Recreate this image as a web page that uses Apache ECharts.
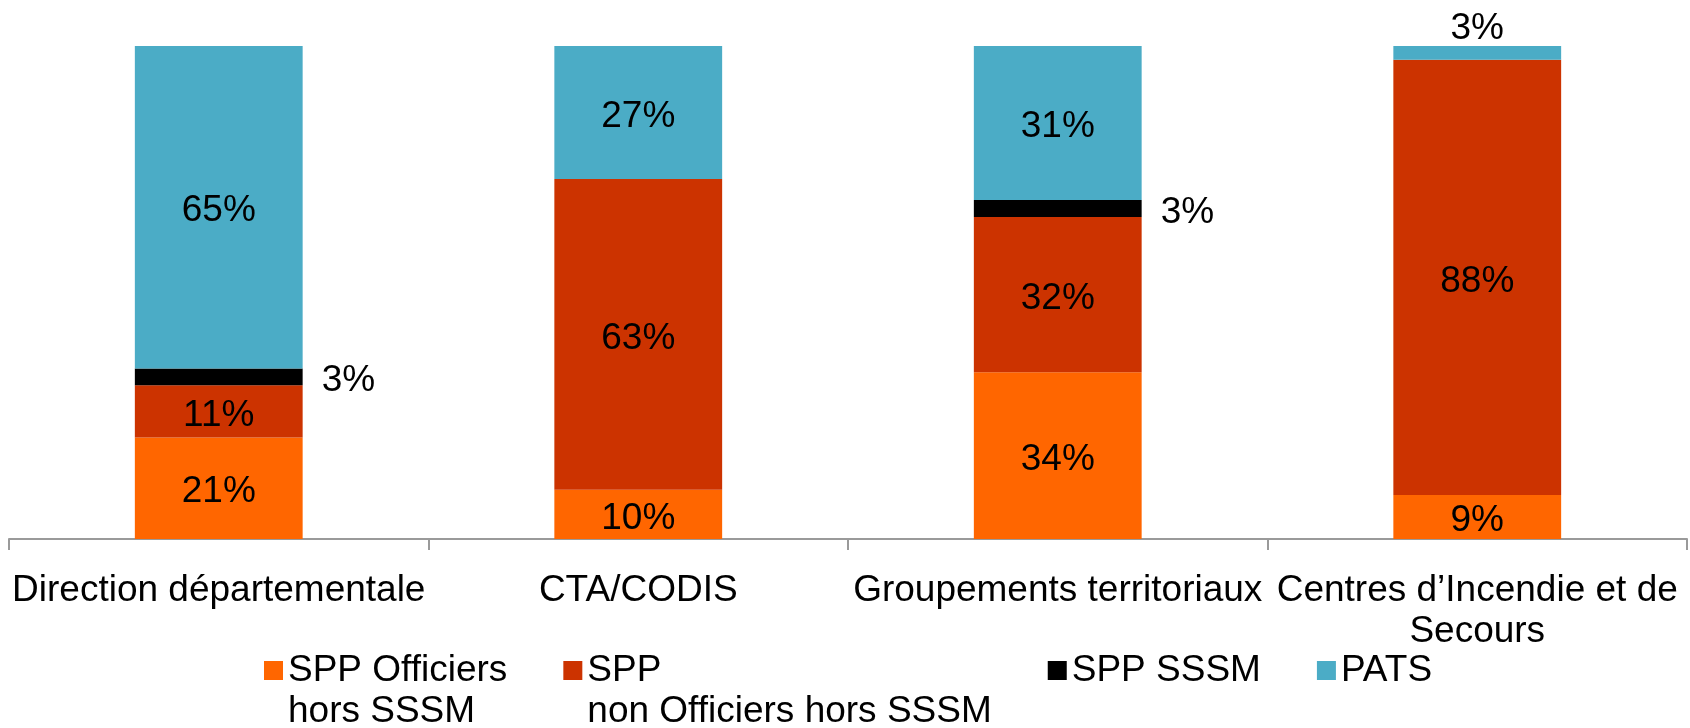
<!DOCTYPE html>
<html>
<head>
<meta charset="utf-8">
<script src="https://cdn.jsdelivr.net/npm/echarts@6/dist/echarts.min.js"></script>
<style>
  html, body { margin: 0; padding: 0; background: #fff; }
  #chart { width: 1690px; height: 728px; }
</style>
</head>
<body>
<div id="chart"></div>
<script>
const categories = [
  "Direction départementale",
  "CTA/CODIS",
  "Groupements territoriaux",
  "Centres d’Incendie et de\nSecours",
];
const seriesNames = [
  "SPP Officiers\nhors SSSM",
  "SPP\nnon Officiers hors SSSM",
  "SPP SSSM",
  "PATS",
];
const officiers = [20.6, 10.0, 33.8, 8.9];
const nonOfficiers = [10.6, 63.0, 31.5, 88.3];
const sssm = [3.4, 0, 3.45, 0];
const pats = [65.4, 27.0, 31.25, 2.8];

const colors = ["#FF6600", "#CC3300", "#000000", "#4BACC6"];
const font = "Liberation Sans, Arial, sans-serif";

const labelBase = {
  show: true,
  position: "inside",
  offset: [0, 4],
  color: "#000",
  fontSize: 37,
  fontFamily: font,
  formatter: (p) => (p.value ? Math.round(p.value) + "%" : ""),
};

const makeSeries = (name, values, color, labelExtra, smallTop) => ({
  name: name,
  type: "bar",
  stack: "total",
  barCategoryGap: "60%",
  itemStyle: { color: color },
  label: Object.assign({}, labelBase, labelExtra || {}),
  data: values.map((v) =>
    smallTop && v < 5
      ? { value: v, label: { position: "top", distance: 3 } } // petite valeur au-dessus
      : v
  ),
});

const myChart = echarts.init(document.getElementById("chart"));
myChart.setOption({
  animation: false,
  backgroundColor: "#fff",
  textStyle: { fontFamily: font },
  grid: { left: 9, right: 3, top: 46, bottom: 189, outerBoundsMode: "none" },
  legend: {
    left: 264,
    top: 609,
    padding: 0,
    icon: "rect",
    itemWidth: 19,
    itemHeight: 19,
    itemGap: 56,
    textStyle: { fontSize: 37, lineHeight: 41, color: "#000", fontFamily: font },
    // ligne vide en tête pour aligner la 1re ligne sur le carré
    formatter: (name) => (name.indexOf("\n") >= 0 ? "\n" + name : name),
    data: seriesNames,
  },
  xAxis: {
    type: "category",
    data: categories,
    axisLine: { lineStyle: { color: "#9a9a9a", width: 2 } },
    axisTick: { show: true, length: 11, lineStyle: { color: "#9a9a9a", width: 2 } },
    axisLabel: {
      interval: 0,
      margin: 31,
      color: "#000",
      fontSize: 37,
      lineHeight: 41,
      fontFamily: font,
    },
  },
  yAxis: { type: "value", min: 0, max: 100, show: false },
  series: [
    makeSeries(seriesNames[0], officiers, colors[0]),
    makeSeries(seriesNames[1], nonOfficiers, colors[1]),
    makeSeries(seriesNames[2], sssm, colors[2], { position: "right", distance: 19 }),
    makeSeries(seriesNames[3], pats, colors[3], null, true),
  ],
});
</script>
</body>
</html>
